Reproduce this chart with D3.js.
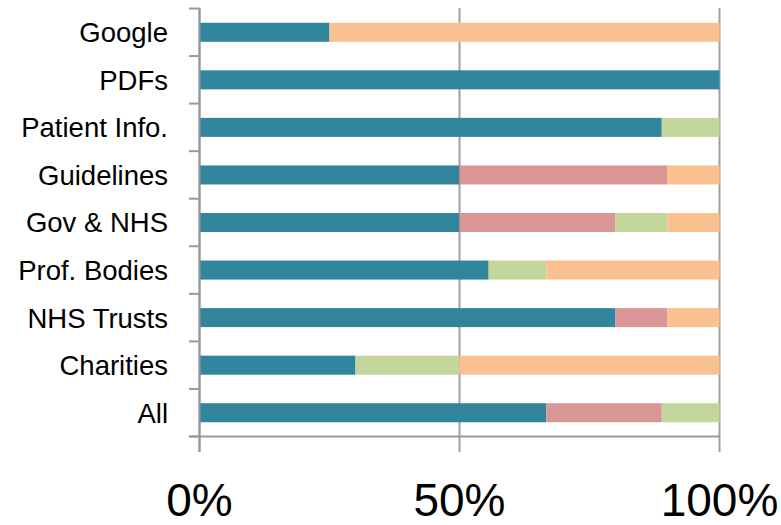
<!DOCTYPE html>
<html><head><meta charset="utf-8">
<script src="https://cdn.jsdelivr.net/npm/d3@7/dist/d3.min.js"></script>
<style>body{margin:0;background:#fff}text{font-family:"Liberation Sans",Arial,sans-serif;fill:#000}</style>
</head><body><svg id="c" width="781" height="525"></svg>
<script>
const categories = ["Google","PDFs","Patient Info.","Guidelines","Gov & NHS","Prof. Bodies","NHS Trusts","Charities","All"];
const seriesNames = ["A","B","C","D"];
const seriesA = [25, 100, 88.9, 50, 50, 55.6, 80, 30, 66.7];
const seriesB = [0, 0, 0, 40, 30, 0, 10, 0, 22.2];
const seriesC = [0, 0, 11.1, 0, 10, 11.1, 0, 20, 11.1];
const seriesD = [75, 0, 0, 10, 10, 33.3, 10, 50, 0];
const colors = ["#31859C","#D99694","#C3D69B","#FAC090"];
const tickValues = [0, 50, 100];

const svg = d3.select("#c");
const x = d3.scaleLinear().domain([0,100]).range([199.5,719.5]);
const y = d3.scaleBand().domain(categories).range([8.5,436.5]).paddingInner(0.6).paddingOuter(0.3);
const yb = d3.scaleBand().domain(categories).range([8.5,436.5]);

const rows = categories.map((c,i)=>({cat:c,A:seriesA[i],B:seriesB[i],C:seriesC[i],D:seriesD[i]}));
const stack = d3.stack().keys(seriesNames)(rows);

// vertical gridlines
svg.append("g").selectAll("line").data(tickValues).join("line")
  .attr("x1",d=>x(d)).attr("x2",d=>x(d)).attr("y1",8).attr("y2",452)
  .attr("stroke","#A0A0A0").attr("stroke-width",2);

// bars
svg.append("g").selectAll("g").data(stack).join("g").attr("fill",(d,i)=>colors[i])
  .selectAll("rect").data(d=>d.filter(s=>s[1]-s[0]>0)).join("rect")
  .attr("x",d=>x(d[0])).attr("width",d=>x(d[1])-x(d[0]))
  .attr("y",d=>y(d.data.cat)).attr("height",y.bandwidth());

// y axis ticks
const bounds = categories.map(c=>yb(c)).concat([436.5]);
svg.append("g").selectAll("line").data(bounds).join("line")
  .attr("x1",189).attr("x2",199.5).attr("y1",d=>d).attr("y2",d=>d)
  .attr("stroke","#999").attr("stroke-width",2);
svg.append("line").attr("x1",199.5).attr("x2",199.5).attr("y1",8).attr("y2",452).attr("stroke","#999").attr("stroke-width",2);
svg.append("line").attr("x1",189).attr("x2",720).attr("y1",436.5).attr("y2",436.5).attr("stroke","#999").attr("stroke-width",2);

// category labels
svg.append("g").selectAll("text").data(categories).join("text")
  .attr("x",168).attr("y",c=>yb(c)+yb.bandwidth()/2).attr("dy","0.36em")
  .attr("text-anchor","end").attr("font-size",27.5).text(d=>d);

// x tick labels
svg.append("g").selectAll("text").data(tickValues).join("text")
  .attr("x",d=>x(d)).attr("y",516).attr("text-anchor","middle").attr("font-size",46)
  .text(d=>d+"%");
</script></body></html>
